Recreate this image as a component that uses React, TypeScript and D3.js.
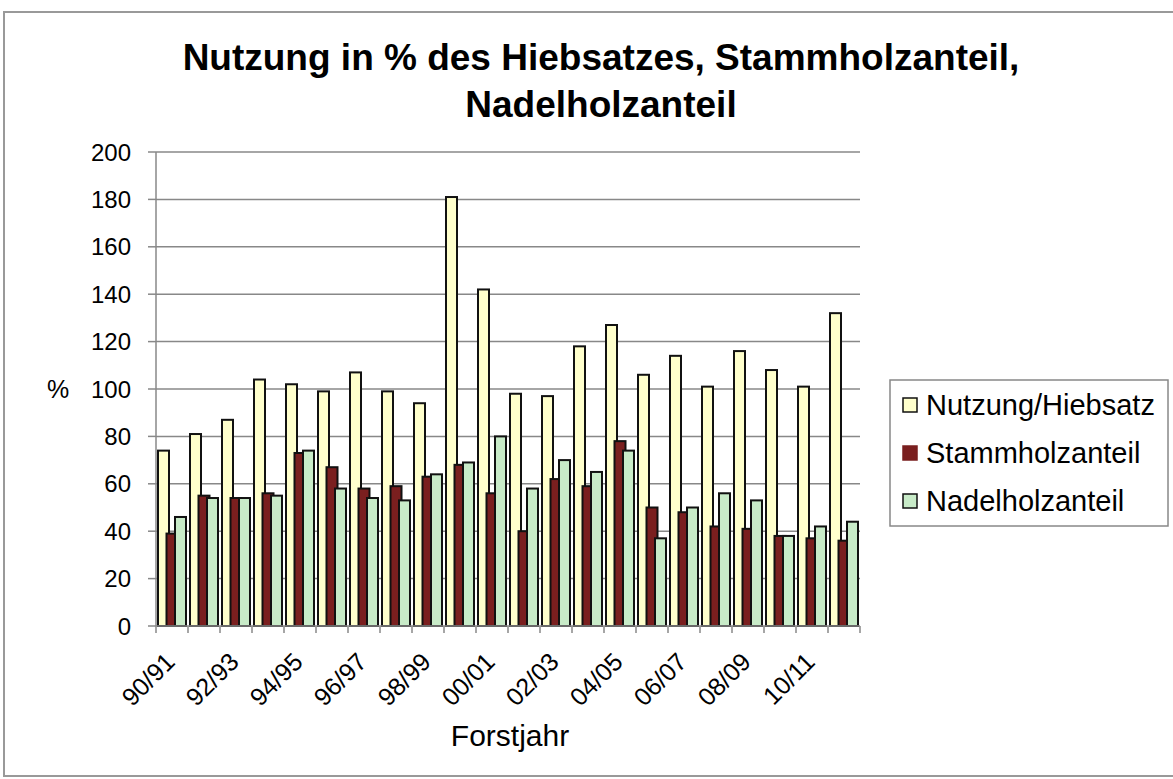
import React from 'react';
import * as d3 from 'd3';

const width = 1173;
const height = 779;
const margin = {top: 152, right: 313, bottom: 153, left: 156};

const years = ['90/91', '91/92', '92/93', '93/94', '94/95', '95/96', '96/97', '97/98', '98/99', '99/00', '00/01',
  '01/02', '02/03', '03/04', '04/05', '05/06', '06/07', '07/08', '08/09', '09/10', '10/11', '11/12'];
const nutzung = [74, 81, 87, 104, 102, 99, 107, 99, 94, 181, 142, 98, 97, 118, 127, 106, 114, 101, 116, 108, 101, 132];
const stammholz = [39, 55, 54, 56, 73, 67, 58, 59, 63, 68, 56, 40, 62, 59, 78, 50, 48, 42, 41, 38, 37, 36];
const nadelholz = [46, 54, 54, 55, 74, 58, 54, 53, 64, 69, 80, 58, 70, 65, 74, 37, 50, 56, 53, 38, 42, 44];
const yTicks = [0, 20, 40, 60, 80, 100, 120, 140, 160, 180, 200];

const seriesNames = ['Nutzung/Hiebsatz', 'Stammholzanteil', 'Nadelholzanteil'];
const colors = ['#ffffcc', '#7a1f1f', '#c8ebc8'];
const font = 'Arial, "Liberation Sans", sans-serif';

export default function App() {
  const x = d3.scaleBand().domain(years).range([margin.left, width - margin.right]);
  const y = d3.scaleLinear().domain([0, 200]).range([height - margin.bottom, margin.top]);
  const series = [nutzung, stammholz, nadelholz];
  const barW = 11;
  const barStep = 8.5;
  const x0 = margin.left;
  const x1 = width - margin.right;
  const y0 = y(0);

  return (
    <svg width={width} height={height} style={{position: 'absolute', left: 0, top: 0}} fontFamily={font}>
      <rect x={0} y={0} width={width} height={height} fill="#fff"/>
      <rect x={4} y={12} width={width + 10} height={764} fill="none" stroke="#999" strokeWidth={2}/>

      <text x={601} y={70} textAnchor="middle" fontSize={37} fontWeight="bold">Nutzung in % des Hiebsatzes, Stammholzanteil,</text>
      <text x={601} y={117} textAnchor="middle" fontSize={37} fontWeight="bold">Nadelholzanteil</text>

      {yTicks.map(t => (
        <g key={t}>
          {t > 0 && <line x1={x0} x2={x1} y1={y(t)} y2={y(t)} stroke="#888" strokeWidth={1.5}/>}
          <line x1={x0 - 8} x2={x0} y1={y(t)} y2={y(t)} stroke="#888" strokeWidth={1.5}/>
          <text x={131} y={y(t)} dy="0.36em" textAnchor="end" fontSize={24}>{t}</text>
        </g>
      ))}
      <line x1={x0} x2={x0} y1={y(200)} y2={y0} stroke="#888" strokeWidth={1.5}/>
      <text x={58} y={y(100)} dy="0.36em" textAnchor="middle" fontSize={25}>%</text>

      {years.map((yr, i) => (
        <g key={yr}>
          {series.map((vals, s) => (
            <rect key={s} x={x(yr)! + 2 + s * barStep} y={y(vals[i])} width={barW} height={y0 - y(vals[i])}
              fill={colors[s]} stroke="#111" strokeWidth={2}/>
          ))}
        </g>
      ))}

      <line x1={x0} x2={x1} y1={y0} y2={y0} stroke="#888" strokeWidth={1.5}/>
      {[...years, 'end'].map((yr, i) => {
        const tx = x0 + i * x.step();
        return <line key={yr} x1={tx} x2={tx} y1={y0} y2={y0 + 7} stroke="#888" strokeWidth={1.5}/>;
      })}
      {years.map((yr, i) => i % 2 === 0 && (
        <text key={yr} transform={`translate(${x(yr)! + x.bandwidth() / 2 - 8},${y0 + 25}) rotate(-45)`}
          textAnchor="end" fontSize={25} dy="0.7em">{yr}</text>
      ))}
      <text x={510} y={746} textAnchor="middle" fontSize={30}>Forstjahr</text>

      <rect x={890} y={380} width={278} height={146} fill="#fff" stroke="#888" strokeWidth={1.5}/>
      {seriesNames.map((name, s) => (
        <g key={name} transform={`translate(903,${405 + s * 48})`}>
          <rect x={0} y={-7} width={14} height={14} fill={colors[s]} stroke={s === 1 ? colors[s] : '#111'} strokeWidth={1.5}/>
          <text x={23} y={0} dy="0.36em" fontSize={29}>{name}</text>
        </g>
      ))}
    </svg>
  );
}
